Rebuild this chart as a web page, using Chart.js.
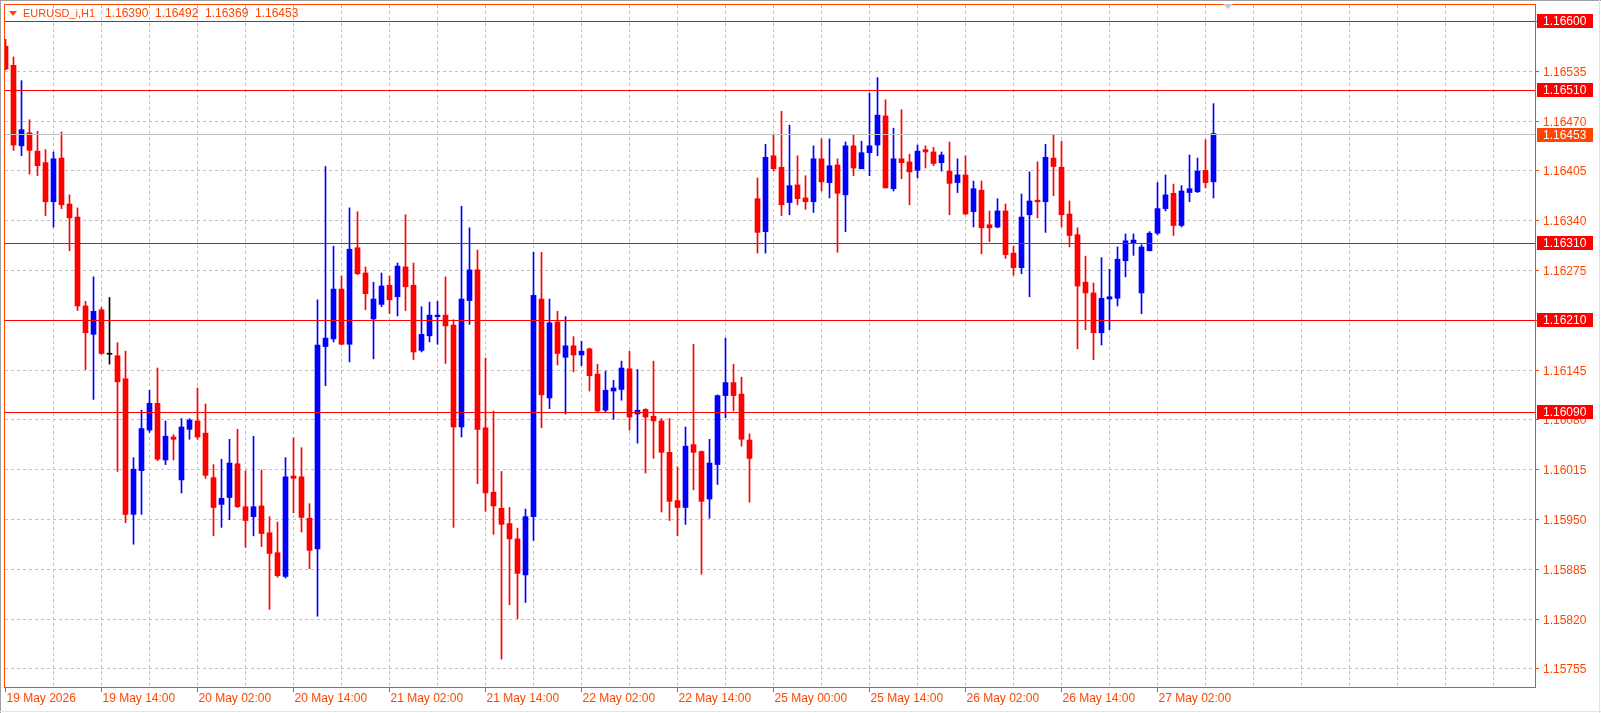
<!DOCTYPE html>
<html>
<head>
<meta charset="utf-8">
<script src="https://cdn.jsdelivr.net/npm/chart.js@4.4.1/dist/chart.umd.min.js"></script>
<style>
  body { margin: 0; background: #fff; }
  canvas { display: block; }
</style>
</head>
<body>
<canvas id="chart" width="1601" height="713"></canvas>
<script>
// EURUSD H1, one entry per bar (bar 0 = 19 May 02:00)
const symbol = 'EURUSD_i,H1';

const open = [
  1.16567, 1.16542, 1.16437, 1.16454, 1.16430, 1.16415, 1.16364, 1.16421, 1.16361, 1.16344,
  1.16228, 1.16191, 1.16223, 1.16165, 1.16163, 1.16133, 1.15956, 1.16013, 1.16066, 1.16101,
  1.16027, 1.16057, 1.16001, 1.16067, 1.16078, 1.16062, 1.16004, 1.15969, 1.15978, 1.16022,
  1.15966, 1.15953, 1.15967, 1.15932, 1.15906, 1.15875, 1.16006, 1.16005, 1.15951, 1.15911,
  1.16175, 1.16185, 1.16250, 1.16178, 1.16304, 1.16271, 1.16211, 1.16230, 1.16255, 1.16240,
  1.16279, 1.16255, 1.16170, 1.16189, 1.16214, 1.16216, 1.16203, 1.16070, 1.16235, 1.16275,
  1.16069, 1.15985, 1.15964, 1.15944, 1.15924, 1.15877, 1.15953, 1.16237, 1.16108, 1.16207,
  1.16161, 1.16176, 1.16164, 1.16172, 1.16139, 1.16092, 1.16117, 1.16119, 1.16146, 1.16087,
  1.16093, 1.16084, 1.16078, 1.16037, 1.15974, 1.15965, 1.16047, 1.16038, 1.15976, 1.16021,
  1.16111, 1.16128, 1.16113, 1.16053, 1.16368, 1.16325, 1.16424, 1.16409, 1.16363, 1.16386,
  1.16369, 1.16364, 1.16420, 1.16389, 1.16412, 1.16373, 1.16437, 1.16407, 1.16428, 1.16438,
  1.16476, 1.16381, 1.16420, 1.16416, 1.16405, 1.16432, 1.16429, 1.16415, 1.16404, 1.16389,
  1.16399, 1.16351, 1.16379, 1.16334, 1.16331, 1.16352, 1.16297, 1.16278, 1.16347, 1.16366,
  1.16364, 1.16421, 1.16409, 1.16348, 1.16321, 1.16259, 1.16245, 1.16193, 1.16237, 1.16238,
  1.16287, 1.16310, 1.16245, 1.16300, 1.16323, 1.16355, 1.16375, 1.16333, 1.16376, 1.16377,
  1.16405, 1.16390
];
const high = [
  1.16576, 1.16553, 1.16522, 1.16471, 1.16456, 1.16432, 1.16429, 1.16455, 1.16373, 1.16356,
  1.16234, 1.16266, 1.16226, 1.16239, 1.16180, 1.16169, 1.16030, 1.16092, 1.16118, 1.16147,
  1.16078, 1.16060, 1.16081, 1.16081, 1.16121, 1.16100, 1.16021, 1.16028, 1.16054, 1.16067,
  1.16013, 1.16058, 1.16014, 1.15953, 1.15946, 1.16030, 1.16056, 1.16043, 1.15970, 1.16236,
  1.16410, 1.16306, 1.16267, 1.16356, 1.16351, 1.16279, 1.16259, 1.16271, 1.16267, 1.16284,
  1.16347, 1.16284, 1.16227, 1.16233, 1.16234, 1.16266, 1.16210, 1.16358, 1.16330, 1.16301,
  1.16160, 1.16091, 1.16012, 1.15965, 1.15938, 1.15963, 1.16298, 1.16298, 1.16237, 1.16221,
  1.16214, 1.16188, 1.16182, 1.16173, 1.16152, 1.16143, 1.16131, 1.16156, 1.16169, 1.16145,
  1.16094, 1.16156, 1.16081, 1.16081, 1.16018, 1.16070, 1.16178, 1.16039, 1.16054, 1.16112,
  1.16186, 1.16152, 1.16135, 1.16061, 1.16395, 1.16439, 1.16451, 1.16482, 1.16464, 1.16424,
  1.16398, 1.16437, 1.16446, 1.16446, 1.16420, 1.16442, 1.16451, 1.16443, 1.16506, 1.16526,
  1.16497, 1.16460, 1.16484, 1.16426, 1.16438, 1.16437, 1.16435, 1.16429, 1.16442, 1.16420,
  1.16424, 1.16391, 1.16391, 1.16352, 1.16368, 1.16361, 1.16306, 1.16374, 1.16403, 1.16416,
  1.16439, 1.16452, 1.16443, 1.16365, 1.16330, 1.16293, 1.16258, 1.16291, 1.16276, 1.16305,
  1.16322, 1.16322, 1.16308, 1.16325, 1.16389, 1.16399, 1.16387, 1.16385, 1.16425, 1.16421,
  1.16445, 1.16492
];
const low = [
  1.16536, 1.16431, 1.16424, 1.16400, 1.16398, 1.16346, 1.16331, 1.16355, 1.16300, 1.16222,
  1.16145, 1.16106, 1.16165, 1.16152, 1.16012, 1.15945, 1.15917, 1.15956, 1.16063, 1.16026,
  1.16021, 1.16027, 1.15984, 1.16054, 1.16054, 1.16003, 1.15928, 1.15939, 1.15949, 1.15965,
  1.15913, 1.15928, 1.15914, 1.15832, 1.15874, 1.15873, 1.15958, 1.15933, 1.15885, 1.15823,
  1.16124, 1.16181, 1.16177, 1.16155, 1.16269, 1.16223, 1.16159, 1.16227, 1.16218, 1.16215,
  1.16222, 1.16158, 1.16168, 1.16181, 1.16178, 1.16153, 1.15939, 1.16057, 1.16204, 1.15996,
  1.15960, 1.15930, 1.15767, 1.15838, 1.15820, 1.15841, 1.15922, 1.16069, 1.16094, 1.16151,
  1.16087, 1.16142, 1.16150, 1.16117, 1.16090, 1.16090, 1.16080, 1.16105, 1.16066, 1.16049,
  1.16010, 1.16029, 1.15959, 1.15948, 1.15928, 1.15943, 1.15988, 1.15878, 1.15951, 1.15995,
  1.16082, 1.16091, 1.16045, 1.15972, 1.16297, 1.16297, 1.16404, 1.16346, 1.16347, 1.16360,
  1.16354, 1.16350, 1.16378, 1.16369, 1.16298, 1.16325, 1.16398, 1.16407, 1.16398, 1.16424,
  1.16382, 1.16378, 1.16394, 1.16360, 1.16395, 1.16408, 1.16411, 1.16404, 1.16347, 1.16376,
  1.16347, 1.16331, 1.16296, 1.16312, 1.16330, 1.16290, 1.16268, 1.16270, 1.16240, 1.16343,
  1.16324, 1.16372, 1.16331, 1.16305, 1.16172, 1.16197, 1.16158, 1.16177, 1.16197, 1.16228,
  1.16266, 1.16294, 1.16218, 1.16300, 1.16321, 1.16352, 1.16320, 1.16331, 1.16364, 1.16376,
  1.16382, 1.16369
];
const close = [
  1.16537, 1.16438, 1.16458, 1.16431, 1.16411, 1.16364, 1.16420, 1.16360, 1.16343, 1.16228,
  1.16193, 1.16221, 1.16166, 1.16165, 1.16129, 1.15956, 1.16015, 1.16068, 1.16101, 1.16028,
  1.16058, 1.16054, 1.16070, 1.16079, 1.16057, 1.16007, 1.15965, 1.15977, 1.16023, 1.15966,
  1.15948, 1.15966, 1.15931, 1.15905, 1.15876, 1.16005, 1.16003, 1.15952, 1.15909, 1.16177,
  1.16186, 1.16250, 1.16178, 1.16302, 1.16270, 1.16244, 1.16237, 1.16254, 1.16236, 1.16280,
  1.16253, 1.16168, 1.16191, 1.16216, 1.16216, 1.16202, 1.16070, 1.16237, 1.16275, 1.16067,
  1.15984, 1.15967, 1.15943, 1.15924, 1.15879, 1.15953, 1.16242, 1.16112, 1.16206, 1.16166,
  1.16176, 1.16164, 1.16169, 1.16137, 1.16091, 1.16118, 1.16121, 1.16147, 1.16083, 1.16092,
  1.16083, 1.16078, 1.16037, 1.15973, 1.15965, 1.16045, 1.16037, 1.15973, 1.16023, 1.16111,
  1.16128, 1.16111, 1.16054, 1.16029, 1.16324, 1.16422, 1.16407, 1.16360, 1.16385, 1.16368,
  1.16364, 1.16420, 1.16390, 1.16411, 1.16375, 1.16437, 1.16408, 1.16428, 1.16437, 1.16477,
  1.16382, 1.16420, 1.16415, 1.16403, 1.16430, 1.16429, 1.16414, 1.16425, 1.16388, 1.16399,
  1.16348, 1.16381, 1.16330, 1.16330, 1.16352, 1.16295, 1.16278, 1.16344, 1.16365, 1.16364,
  1.16422, 1.16410, 1.16347, 1.16320, 1.16254, 1.16245, 1.16193, 1.16238, 1.16240, 1.16289,
  1.16313, 1.16314, 1.16305, 1.16323, 1.16355, 1.16373, 1.16333, 1.16378, 1.16381, 1.16404,
  1.16389, 1.16453
];

// time axis: one label every 12 bars
const timeLabels = ['19 May 2026', '19 May 14:00', '20 May 02:00', '20 May 14:00', '21 May 02:00',
  '21 May 14:00', '22 May 02:00', '22 May 14:00', '25 May 00:00', '25 May 14:00',
  '26 May 02:00', '26 May 14:00', '27 May 02:00'];
const barsPerLabel = 12;

// price axis
const priceTicks = [1.16600, 1.16535, 1.16470, 1.16405, 1.16340, 1.16275, 1.16210,
  1.16145, 1.16080, 1.16015, 1.15950, 1.15885, 1.15820, 1.15755];
const levels = [1.16600, 1.16510, 1.16310, 1.16210, 1.16090];   // red horizontal lines
const bid = close[close.length - 1];

const axisColor = '#ff4500';
const font = '12px "Liberation Sans", Arial, sans-serif';
const headerFont = '11px "Liberation Sans", Arial, sans-serif';

const idx = open.map((_, i) => i);
const colors = idx.map(i => close[i] > open[i] ? '#0000ff' : (close[i] < open[i] ? '#ff0000' : '#000000'));

function hline(ctx, x1, x2, y) {
  ctx.beginPath(); ctx.moveTo(x1, y); ctx.lineTo(x2, y); ctx.stroke();
}
function vline(ctx, x, y1, y2) {
  ctx.beginPath(); ctx.moveTo(x, y1); ctx.lineTo(x, y2); ctx.stroke();
}

// grid, axes, lines and labels in MetaTrader style
const mtPlugin = {
  id: 'mt',
  beforeDraw(chart) {
    const { ctx, chartArea: a, scales: { x, y } } = chart;
    ctx.save();
    ctx.fillStyle = '#ffffff';
    ctx.fillRect(0, 0, chart.width, chart.height);

    ctx.strokeStyle = '#c0c0c0';
    ctx.lineWidth = 1;
    ctx.setLineDash([3, 3]);
    priceTicks.forEach(p => hline(ctx, a.left, a.right, Math.round(y.getPixelForValue(p)) + 0.5));
    for (let i = barsPerLabel / 2; x.getPixelForValue(i) < a.right; i += barsPerLabel / 2) {
      vline(ctx, Math.floor(x.getPixelForValue(i)) + 0.5, a.top, a.bottom);
    }
    ctx.restore();
  },
  afterDatasetsDraw(chart) {
    const { ctx, chartArea: a, scales: { x, y } } = chart;
    ctx.save();
    ctx.lineWidth = 1;

    // bid line
    const by = Math.round(y.getPixelForValue(bid)) + 0.5;
    ctx.strokeStyle = '#c0c0c0';
    hline(ctx, a.left, a.right, by);

    // level lines
    ctx.strokeStyle = '#ff0000';
    levels.forEach(p => hline(ctx, a.left, a.right, Math.round(y.getPixelForValue(p)) + 0.5));

    // outer frame
    ctx.strokeStyle = '#a0a0a0';
    hline(ctx, 0, chart.width, 0.5);
    vline(ctx, 0.5, 0, chart.height);
    ctx.strokeStyle = '#e3e3e3';
    hline(ctx, 0, chart.width, chart.height - 1.5);
    vline(ctx, chart.width - 1.5, 0, chart.height);

    // plot border
    ctx.strokeStyle = axisColor;
    ctx.strokeRect(a.left - 0.5, a.top - 0.5, a.right - a.left + 1, a.bottom - a.top + 1);

    ctx.font = font;
    ctx.textBaseline = 'middle';
    ctx.textAlign = 'left';

    // price ticks
    ctx.fillStyle = axisColor;
    priceTicks.forEach(p => {
      const py = Math.round(y.getPixelForValue(p)) + 0.5;
      hline(ctx, a.right, a.right + 4, py);
      ctx.fillText(p.toFixed(5), a.right + 8, py + 1);
    });

    // time ticks
    timeLabels.forEach((t, k) => {
      const px = Math.floor(x.getPixelForValue(k * barsPerLabel)) + 0.5;
      vline(ctx, px, a.bottom + 1, a.bottom + 5);
      ctx.fillText(t, px + 1, a.bottom + 12);
    });

    // level labels
    levels.forEach(p => {
      const py = Math.round(y.getPixelForValue(p));
      ctx.fillStyle = '#ff0000';
      ctx.fillRect(a.right + 2, py - 7, 56, 14);
      ctx.fillStyle = '#ffffff';
      ctx.fillText(p.toFixed(5), a.right + 8, py + 1);
    });
    ctx.fillStyle = axisColor;
    ctx.fillRect(a.right + 2, Math.round(by) - 7, 56, 14);
    ctx.fillStyle = '#ffffff';
    ctx.fillText(bid.toFixed(5), a.right + 8, Math.round(by) + 1);

    // header
    const last = open.length - 1;
    ctx.fillStyle = axisColor;
    ctx.beginPath();
    ctx.moveTo(9, 11); ctx.lineTo(17, 11); ctx.lineTo(13, 16); ctx.closePath();
    ctx.fill();
    ctx.font = headerFont;
    ctx.fillText(symbol, 23, 14);
    ctx.font = font;
    [open[last], high[last], low[last], close[last]].forEach((v, k) => {
      ctx.fillText(v.toFixed(5), 105 + k * 50, 14);
    });

    // chart shift marker
    ctx.fillStyle = '#c8c8c8';
    ctx.beginPath();
    ctx.moveTo(1223, 4); ctx.lineTo(1233, 4); ctx.lineTo(1228, 9); ctx.closePath();
    ctx.fill();
    ctx.restore();
  }
};

const ctx = document.getElementById('chart').getContext('2d');
const chart = new Chart(ctx, {
  type: 'bar',
  data: {
    datasets: [{
      // wicks
      data: idx.map(i => ({ x: i, y: [low[i], high[i]] })),
      backgroundColor: colors,
      barThickness: 1,
      grouped: false,
      order: 2
    }, {
      // bodies
      data: idx.map(i => ({ x: i, y: [open[i], close[i]] })),
      backgroundColor: colors,
      barThickness: 5,
      minBarLength: 1,
      grouped: false,
      order: 1
    }]
  },
  options: {
    responsive: false,
    animation: false,
    devicePixelRatio: 1,
    layout: { padding: { left: 5, top: 5, right: 66, bottom: 26 } },
    plugins: { legend: { display: false }, tooltip: { enabled: false } },
    scales: {
      x: { type: 'linear', display: false, offset: false, min: -0.0625, max: 191.1875 },
      y: { display: false, min: 1.1573072, max: 1.1662075 }
    }
  },
  plugins: [mtPlugin]
});
</script>
</body>
</html>
